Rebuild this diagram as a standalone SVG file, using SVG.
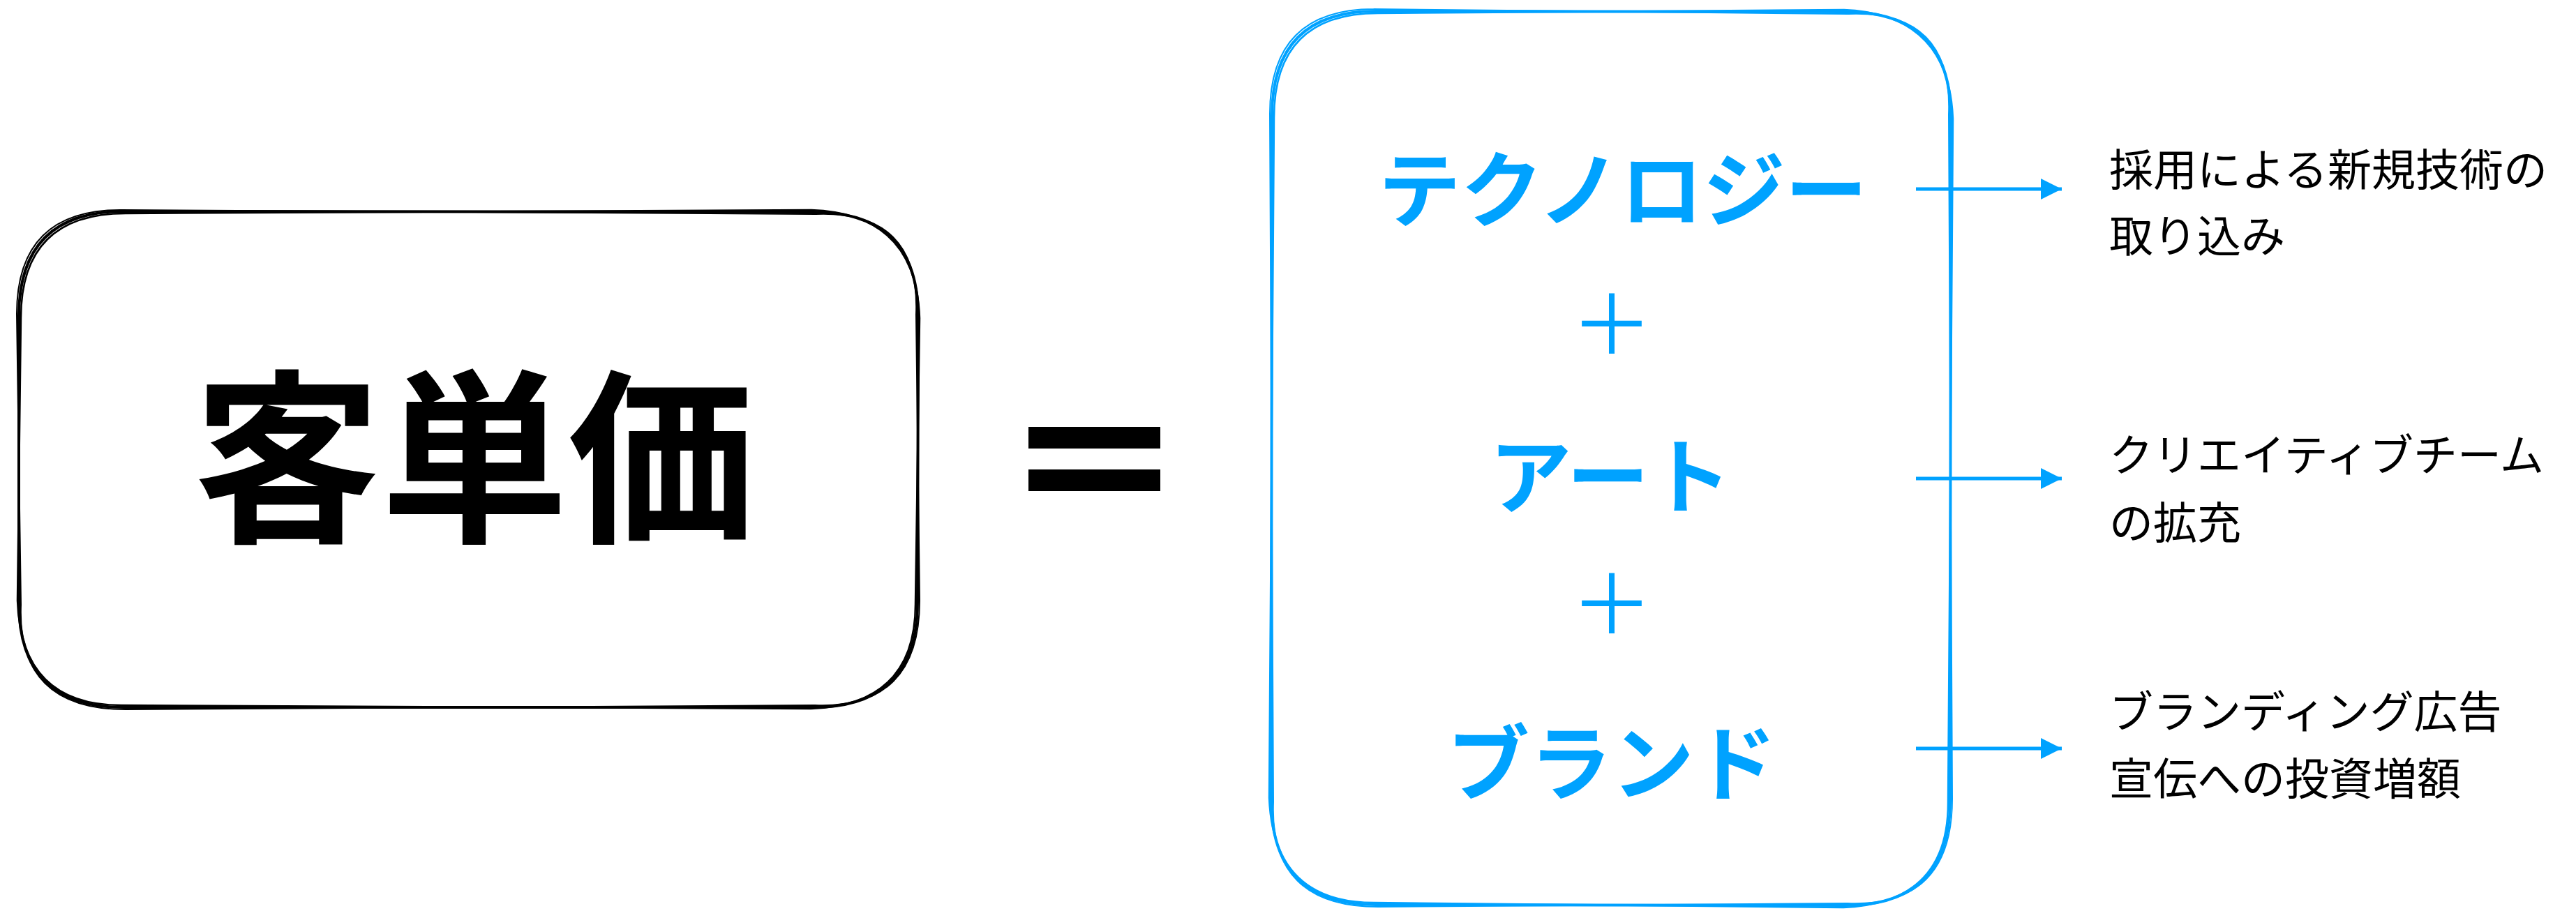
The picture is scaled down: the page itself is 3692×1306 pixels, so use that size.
<svg xmlns="http://www.w3.org/2000/svg" width="3692" height="1306" viewBox="0 0 3692 1306">
<defs>
<style>
.bg{fill:#ffffff}
.sk-k{fill:none;stroke:#000000;stroke-linecap:round;stroke-linejoin:round}
.sk-b{fill:none;stroke:#00A2FF;stroke-linecap:round;stroke-linejoin:round}
.title{font-family:"Noto Sans CJK JP","Liberation Sans",sans-serif;font-weight:bold;font-size:268px;fill:#000000;text-anchor:middle}
.blue{font-family:"Noto Sans CJK JP","Liberation Sans",sans-serif;font-weight:bold;font-size:118px;fill:#00A2FF;text-anchor:middle}
.plus{font-family:"Noto Sans CJK JP","Liberation Sans",sans-serif;font-weight:normal;font-size:118px;fill:#00A2FF;text-anchor:middle}
.note{font-family:"Noto Sans CJK JP","Liberation Sans",sans-serif;font-weight:normal;font-size:63px;fill:#000000}
.conn{stroke:#00A2FF;stroke-width:5;fill:none}
</style>
<marker id="arrow" markerUnits="userSpaceOnUse" markerWidth="32" markerHeight="32" refX="30" refY="15" orient="auto">
<path d="M0,0 L30,15 L0,30 Z" fill="#00A2FF"/>
</marker>
</defs>
<rect class="bg" x="0" y="0" width="3692" height="1306"/>

<g id="node-kyakutanka">
<path class="sk-k" stroke-width="4" d="M177,303 L1166,304 Q1316,304 1316,454 L1315,864 Q1315,1014 1165,1014 L177,1014 Q27,1014 27,864 L27,453 Q27,303 177,303 Z"/>
<path class="sk-k" stroke-width="2.5" d="M180,306 L1163,301 Q1313,306 1318,456 L1312,866 Q1312,1011 1162,1016 L174,1011 Q30,1011 25,861 L30,456 Q30,306 180,306"/>
<path class="sk-k" stroke-width="2" d="M174,301 L1169,307 Q1319,301 1313,451 L1318,861 Q1318,1017 1168,1011 L180,1017 Q24,1017 30,867 L24,450 Q24,300 174,301"/>
<text class="title" x="680" y="757">客単価</text>
</g>

<g id="node-equals">
<rect x="1474" y="612" width="189" height="31" fill="#000000"/>
<rect x="1474" y="673" width="189" height="31" fill="#000000"/>
</g>

<g id="node-components">
<path class="sk-b" stroke-width="4" d="M1972,16 L2646,17 Q2796,17 2796,167 L2795,1148 Q2795,1298 2645,1298 L1972,1297 Q1822,1297 1822,1147 L1823,166 Q1823,16 1972,16 Z"/>
<path class="sk-b" stroke-width="2.5" d="M1975,19 L2643,14 Q2793,20 2799,170 L2792,1151 Q2792,1295 2642,1301 L1969,1294 Q1825,1294 1819,1144 L1826,169 Q1826,19 1975,19"/>
<path class="sk-b" stroke-width="2" d="M1969,13 L2649,20 Q2799,14 2793,164 L2798,1145 Q2798,1301 2648,1295 L1975,1300 Q1819,1300 1825,1150 L1820,163 Q1820,13 1969,13"/>
<text class="blue" x="2326" y="316">テクノロジー</text>
<text class="plus" x="2310" y="508">＋</text>
<text class="blue" x="2308" y="727">アート</text>
<text class="plus" x="2310" y="909">＋</text>
<text class="blue" x="2310" y="1138">ブランド</text>
</g>

<g id="node-note-tech">
<text class="note" x="3023" y="266">採用による新規技術の</text>
<text class="note" x="3023" y="361">取り込み</text>
</g>
<g id="node-note-art">
<text class="note" x="3023" y="675">クリエイティブチーム</text>
<text class="note" x="3023" y="772">の拡充</text>
</g>
<g id="node-note-brand">
<text class="note" x="3023" y="1043">ブランディング広告</text>
<text class="note" x="3023" y="1139">宣伝への投資増額</text>
</g>

<g id="connectors">
<line class="conn" x1="2746" y1="271" x2="2955" y2="271" marker-end="url(#arrow)"/>
<line class="conn" x1="2746" y1="686" x2="2955" y2="686" marker-end="url(#arrow)"/>
<line class="conn" x1="2746" y1="1073" x2="2955" y2="1073" marker-end="url(#arrow)"/>
</g>
</svg>
